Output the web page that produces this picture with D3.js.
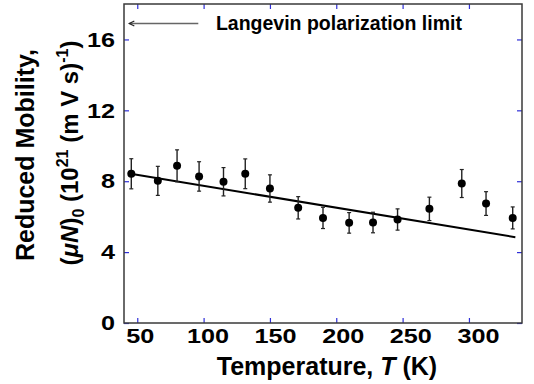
<!DOCTYPE html>
<html>
<head>
<meta charset="utf-8">
<script src="https://cdn.jsdelivr.net/npm/d3@7"></script>
<style>
body { margin: 0; background: #fff; }
text { font-family: "Liberation Sans", Arial, sans-serif; font-weight: bold; }
</style>
</head>
<body>
<svg width="534" height="384"></svg>
<script>
var svg = d3.select("svg");

// Data
var temps = [45.5, 65.5, 80, 96.6, 115, 131.4, 150, 171.3, 190, 209.7, 227.7, 246.2, 270.2, 294.6, 312.9, 333];
var mobility = [8.42, 8.02, 8.87, 8.27, 7.97, 8.42, 7.59, 6.50, 5.93, 5.65, 5.67, 5.84, 6.44, 7.87, 6.74, 5.93];
var errors = [0.85, 0.82, 0.9, 0.83, 0.8, 0.84, 0.77, 0.63, 0.6, 0.58, 0.58, 0.6, 0.66, 0.79, 0.67, 0.62];
var fitT = [45, 335];
var fitY = [8.42, 4.84];
var langevin = 16.9;
var xTicks = [50, 100, 150, 200, 250, 300];
var yTicks = [0, 4, 8, 12, 16];

var margin = { left: 124, right: 12, top: 4, bottom: 61 };
var width = 534 - margin.left - margin.right;
var height = 384 - margin.top - margin.bottom;

var x = d3.scaleLinear().domain([40, 340]).range([0, width]);
var y = d3.scaleLinear().domain([0, 18]).range([height, 0]);

var g = svg.append("g")
    .attr("transform", "translate(" + margin.left + "," + margin.top + ")");

var tickColor = "#2f2fd8";
var stretch = 1.2; // tick labels are drawn wide in the original

// inward ticks on all four sides
var bottomAxis = g.append("g")
    .attr("transform", "translate(0," + height + ")")
    .call(d3.axisBottom(x).tickValues(xTicks).tickSizeInner(-5).tickSizeOuter(0).tickPadding(5));
var topAxis = g.append("g")
    .call(d3.axisTop(x).tickValues(xTicks).tickSizeInner(-5).tickSizeOuter(0).tickFormat(""));
var leftAxis = g.append("g")
    .call(d3.axisLeft(y).tickValues(yTicks).tickSizeInner(-5).tickSizeOuter(0).tickPadding(9));
var rightAxis = g.append("g")
    .attr("transform", "translate(" + width + ",0)")
    .call(d3.axisRight(y).tickValues(yTicks).tickSizeInner(-5).tickSizeOuter(0).tickFormat(""));

[bottomAxis, topAxis, leftAxis, rightAxis].forEach(function(a) {
    a.select(".domain").remove();
    a.selectAll(".tick line").attr("stroke", tickColor).attr("stroke-width", 1.2);
    a.selectAll(".tick text")
        .attr("fill", "#000")
        .attr("transform", "scale(" + stretch + ",1)")
        .style("font-size", "21px")
        .style("font-family", "Liberation Sans, Arial, sans-serif")
        .style("font-weight", "bold");
});
leftAxis.selectAll(".tick text").attr("x", -9 / stretch);
bottomAxis.selectAll(".tick text")
    .attr("x", function(d) { return (2.5 + (d - 50) * 0.026) / stretch; });

// frame
g.append("rect")
    .attr("width", width)
    .attr("height", height)
    .attr("fill", "none")
    .attr("stroke", "#3a3a3a")
    .attr("stroke-width", 1.5);

// fit line
g.append("line")
    .attr("x1", x(fitT[0])).attr("y1", y(fitY[0]))
    .attr("x2", x(fitT[1])).attr("y2", y(fitY[1]))
    .attr("stroke", "#000")
    .attr("stroke-width", 2);

// error bars
var bars = g.append("g").selectAll("g")
    .data(temps)
    .enter()
    .append("g");
bars.append("line")
    .attr("x1", function(d) { return x(d); })
    .attr("x2", function(d) { return x(d); })
    .attr("y1", function(d, i) { return y(mobility[i] + errors[i]); })
    .attr("y2", function(d, i) { return y(mobility[i] - errors[i]); })
    .attr("stroke", "#222")
    .attr("stroke-width", 1.4);
bars.append("line")
    .attr("x1", function(d) { return x(d) - 2; })
    .attr("x2", function(d) { return x(d) + 2; })
    .attr("y1", function(d, i) { return y(mobility[i] + errors[i]); })
    .attr("y2", function(d, i) { return y(mobility[i] + errors[i]); })
    .attr("stroke", "#222")
    .attr("stroke-width", 1.2);
bars.append("line")
    .attr("x1", function(d) { return x(d) - 2; })
    .attr("x2", function(d) { return x(d) + 2; })
    .attr("y1", function(d, i) { return y(mobility[i] - errors[i]); })
    .attr("y2", function(d, i) { return y(mobility[i] - errors[i]); })
    .attr("stroke", "#222")
    .attr("stroke-width", 1.2);

// points
g.append("g").selectAll("circle")
    .data(temps)
    .enter()
    .append("circle")
    .attr("cx", function(d) { return x(d); })
    .attr("cy", function(d, i) { return y(mobility[i]); })
    .attr("r", 4)
    .attr("fill", "#000");

// Langevin arrow
var ay = y(langevin);
g.append("line")
    .attr("x1", x(96)).attr("y1", ay)
    .attr("x2", x(44)).attr("y2", ay)
    .attr("stroke", "#666")
    .attr("stroke-width", 1.4);
g.append("path")
    .attr("d", "M" + (x(44) + 5) + "," + (ay - 2.5) + "L" + x(44) + "," + ay + "L" + (x(44) + 5) + "," + (ay + 2.5))
    .attr("fill", "none")
    .attr("stroke", "#222")
    .attr("stroke-width", 1.2);
g.append("text")
    .attr("x", x(109.3))
    .attr("y", ay + 6.5)
    .style("font-size", "19.5px")
    .text("Langevin polarization limit");

// x title
var xt = svg.append("text")
    .attr("x", 327)
    .attr("y", 375)
    .attr("text-anchor", "middle")
    .style("font-size", "25px");
xt.append("tspan").text("Temperature, ");
xt.append("tspan").style("font-style", "italic").text("T");
xt.append("tspan").text(" (K)");

// y title, two lines
svg.append("text")
    .attr("transform", "translate(33.5,155) rotate(-90)")
    .attr("text-anchor", "middle")
    .style("font-size", "25px")
    .text("Reduced Mobility,");

var yt = svg.append("text")
    .attr("transform", "translate(77.5,153) rotate(-90)")
    .attr("text-anchor", "middle")
    .style("font-size", "24px");
yt.append("tspan").text("(");
yt.append("tspan").style("font-style", "italic").text("\u03bcN");
yt.append("tspan").text(")");
yt.append("tspan").attr("dy", 6).style("font-size", "16px").text("0");
yt.append("tspan").attr("dy", -6).text(" (10");
yt.append("tspan").attr("dy", -10).style("font-size", "16px").text("21");
yt.append("tspan").attr("dy", 10).text(" (m V s)");
yt.append("tspan").attr("dy", -10).style("font-size", "16px").text("-1");
yt.append("tspan").attr("dy", 10).text(")");
</script>
</body>
</html>
